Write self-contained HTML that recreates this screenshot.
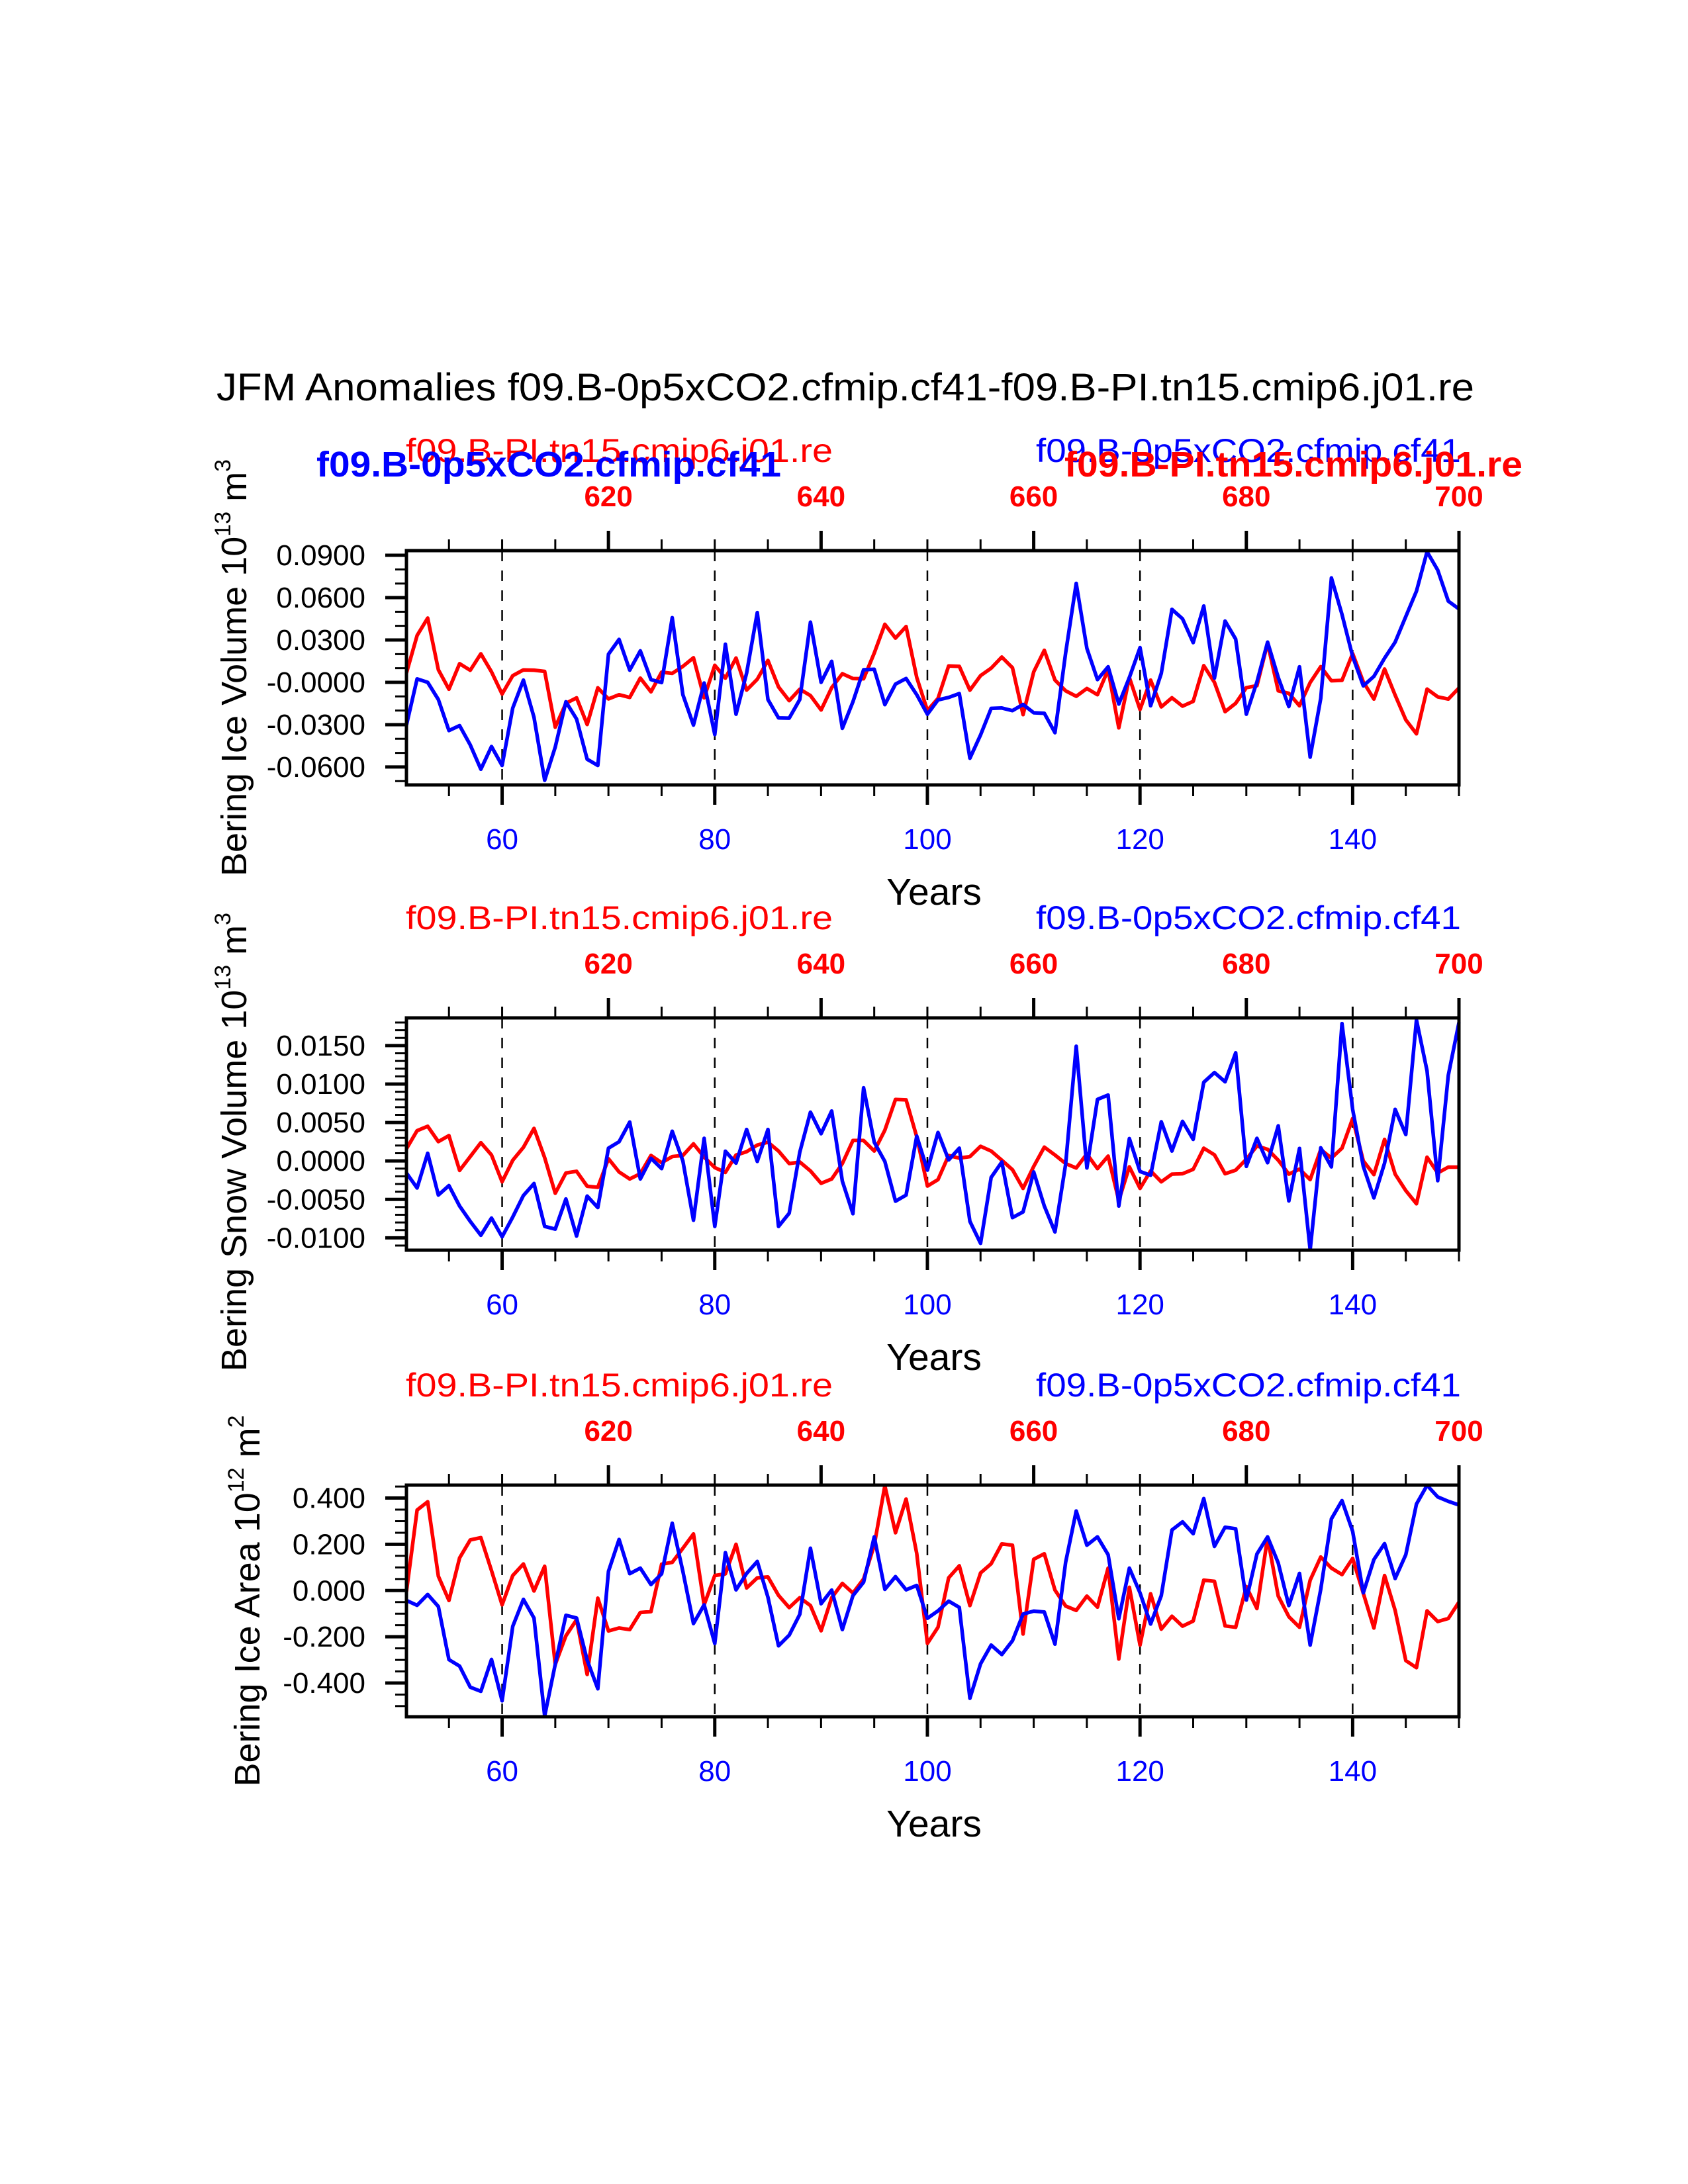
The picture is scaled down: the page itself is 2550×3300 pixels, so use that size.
<!DOCTYPE html>
<html>
<head>
<meta charset="utf-8">
<style>
html,body{margin:0;padding:0;background:#fff;}
svg{display:block;}
text{font-family:"Liberation Sans",Arial,sans-serif;}
</style>
</head>
<body>
<svg id="fig" width="2550" height="3300" viewBox="0 0 2550 3300" xmlns="http://www.w3.org/2000/svg">
<rect x="0" y="0" width="2550" height="3300" fill="#fff"/>
<text x="1277" y="605" font-size="58" text-anchor="middle" textLength="1900" lengthAdjust="spacingAndGlyphs">JFM Anomalies f09.B-0p5xCO2.cfmip.cf41-f09.B-PI.tn15.cmip6.j01.re</text>
</svg>
<script>
const years = [51,52,53,54,55,56,57,58,59,60,61,62,63,64,65,66,67,68,69,70,71,72,73,74,75,76,77,78,79,80,81,82,83,84,85,86,87,88,89,90,91,92,93,94,95,96,97,98,99,100,101,102,103,104,105,106,107,108,109,110,111,112,113,114,115,116,117,118,119,120,121,122,123,124,125,126,127,128,129,130,131,132,133,134,135,136,137,138,139,140,141,142,143,144,145,146,147,148,149,150];
const bottomTickLabels = ["60","80","100","120","140"];
const bottomTickYears = [60,80,100,120,140];
const topTickLabels = ["620","640","660","680","700"];
const topYearOffset = 550;

const iceVolBlue = [-0.0303,0.0024,0,-0.0122,-0.0342,-0.0307,-0.0444,-0.0616,-0.0455,-0.0589,
-0.0182,0.0016,-0.0248,-0.0694,-0.0459,-0.0138,-0.026,-0.0545,-0.0589,0.0199,
0.0304,0.0086,0.0223,0.0019,-0.0002,0.0458,-0.0088,-0.0303,-0.0005,-0.037,
0.027,-0.0226,0.0066,0.0494,-0.0122,-0.0252,-0.0254,-0.0122,0.0426,0,
0.0149,-0.0326,-0.0138,0.0089,0.0092,-0.0158,-0.0013,0.0027,-0.0088,-0.0226,
-0.0125,-0.0107,-0.008,-0.0538,-0.0373,-0.0185,-0.0182,-0.0201,-0.0157,-0.0216,
-0.0219,-0.0357,0.0207,0.0701,0.0241,0.0019,0.011,-0.0154,0.0034,0.0246,
-0.0166,0.0063,0.0517,0.045,0.0281,0.0541,0.003,0.0434,0.0306,-0.0226,
0.0003,0.0285,0.0034,-0.0172,0.011,-0.053,-0.0114,0.074,0.0481,0.0183,
-0.0025,0.0042,0.0171,0.0285,0.0466,0.0646,0.0925,0.0795,0.0575,0.052];
const iceVolRed = [0.0066,0.0332,0.0455,0.0089,-0.0049,0.0132,0.0085,0.0202,0.0074,-0.0083,
0.0047,0.0088,0.0086,0.0077,-0.0318,-0.0149,-0.011,-0.0299,-0.0039,-0.0118,
-0.0088,-0.0107,0.003,-0.0067,0.0072,0.0063,0.0113,0.0174,-0.011,0.0121,
0.003,0.0172,-0.0055,0.0022,0.0155,-0.0033,-0.013,-0.0049,-0.0094,-0.0196,
-0.0038,0.0061,0.0027,0.0025,0.0207,0.0411,0.0313,0.0395,0.0034,-0.02,
-0.0114,0.0116,0.0113,-0.0056,0.0047,0.01,0.0179,0.0103,-0.0229,0.0074,
0.0227,0.0016,-0.006,-0.0099,-0.0044,-0.0088,0.0089,-0.0323,0.0034,-0.0193,
0.0016,-0.0174,-0.011,-0.0169,-0.0135,0.0118,0,-0.0208,-0.0149,-0.0038,
-0.0024,0.0277,-0.006,-0.0078,-0.0166,-0.0002,0.0111,0.0011,0.0014,0.0204,
0.0003,-0.0119,0.0094,-0.0091,-0.0266,-0.0365,-0.0048,-0.0103,-0.0119,-0.004];
// snow volume in thousandths of 10^13 m^3
const snowVolBlueMilli = [-1.57,-3.51,1.0,-4.43,-3.2,-5.86,-7.86,-9.66,-7.43,-9.86,
-7.29,-4.49,-2.94,-8.51,-8.86,-4.94,-9.77,-4.57,-6.06,1.66,
2.49,5.06,-2.34,0.34,-1.0,3.86,0,-7.71,2.94,-8.51,
1.26,-0.29,4.09,-0.06,4.09,-8.51,-6.8,1.14,6.34,3.54,
6.49,-2.63,-6.86,9.51,2.43,-0.06,-5.23,-4.43,3.23,-1.2,
3.71,0.14,1.66,-7.86,-10.71,-2.14,-0.14,-7.37,-6.63,-1.43,
-5.86,-9.23,-0.43,14.91,-0.91,8.0,8.57,-5.86,2.91,-1.37,
-1.86,5.09,1.29,5.14,2.8,10.23,11.49,10.29,14.06,-0.71,
2.94,-0.23,4.57,-5.2,1.63,-11.57,1.71,-0.77,17.86,6.71,
-0.71,-4.8,-0.29,6.71,3.43,18.34,11.71,-2.57,11.14,18.0];
const snowVolRedMilli = [1.57,3.94,4.51,2.51,3.29,-1.23,0.57,2.37,0.77,-2.71,
0.09,1.77,4.23,0.43,-4.2,-1.57,-1.34,-3.29,-3.43,0.29,
-1.43,-2.34,-1.66,0.71,-0.23,0.57,0.71,2.23,0.51,-0.86,
-1.49,0.77,1.2,2.06,2.43,1.29,-0.34,-0.14,-1.29,-2.91,
-2.34,-0.34,2.66,2.66,1.29,4.0,8.0,7.94,3.14,-3.26,
-2.43,0.71,0.37,0.57,1.91,1.29,0.09,-1.14,-3.57,-0.71,
1.8,0.77,-0.34,-0.91,0.91,-1.0,0.63,-5.14,-0.77,-3.57,
-1.29,-2.71,-1.71,-1.66,-1.09,1.66,0.8,-1.66,-1.2,0.23,
1.94,1.51,0.09,-1.71,-1.06,-2.43,1.49,0.37,1.66,5.51,
0,-1.77,2.8,-1.71,-3.86,-5.57,0.49,-1.57,-0.8,-0.8];
const iceAreaBlue = [-0.043,-0.064,-0.017,-0.069,-0.299,-0.327,-0.418,-0.436,-0.298,-0.477,
-0.155,-0.038,-0.119,-0.543,-0.319,-0.107,-0.119,-0.301,-0.425,0.083,
0.221,0.073,0.097,0.026,0.072,0.291,0.083,-0.143,-0.062,-0.229,
0.164,0.003,0.074,0.126,-0.029,-0.239,-0.193,-0.103,0.183,-0.057,
0.002,-0.169,-0.022,0.036,0.232,0.005,0.06,0.003,0.022,-0.12,
-0.088,-0.046,-0.073,-0.466,-0.317,-0.236,-0.277,-0.217,-0.102,-0.089,
-0.093,-0.232,0.122,0.344,0.196,0.232,0.155,-0.122,0.097,-0.01,
-0.145,-0.022,0.262,0.297,0.246,0.398,0.191,0.274,0.267,-0.041,
0.158,0.232,0.119,-0.065,0.074,-0.236,0.005,0.31,0.389,0.256,
-0.01,0.134,0.203,0.052,0.155,0.374,0.455,0.405,0.386,0.37];
const iceAreaRed = [-0.005,0.348,0.384,0.062,-0.043,0.141,0.219,0.229,0.086,-0.062,
0.065,0.115,-0.002,0.105,-0.32,-0.196,-0.126,-0.363,-0.033,-0.175,
-0.162,-0.169,-0.095,-0.091,0.114,0.122,0.183,0.245,-0.062,0.065,
0.072,0.2,0.011,0.055,0.059,-0.021,-0.074,-0.031,-0.065,-0.174,
-0.031,0.031,-0.011,0.05,0.196,0.453,0.25,0.396,0.16,-0.229,
-0.159,0.055,0.107,-0.065,0.076,0.116,0.202,0.196,-0.188,0.135,
0.159,0.002,-0.067,-0.086,-0.024,-0.072,0.097,-0.296,0.014,-0.236,
-0.014,-0.167,-0.111,-0.154,-0.132,0.045,0.04,-0.153,-0.159,0.017,
-0.078,0.229,-0.024,-0.113,-0.159,0.045,0.145,0.097,0.069,0.139,
-0.012,-0.162,0.065,-0.086,-0.303,-0.334,-0.088,-0.134,-0.121,-0.05];

const iceVolTickValues = [0.09,0.06,0.03,0,-0.03,-0.06];
const iceVolTickLabels = ["0.0900","0.0600","0.0300","-0.0000","-0.0300","-0.0600"];
const snowTickValues = [0.015,0.01,0.005,0,-0.005,-0.01];
const snowTickLabels = ["0.0150","0.0100","0.0050","0.0000","-0.0050","-0.0100"];
const areaTickValues = [0.4,0.2,0,-0.2,-0.4];
const areaTickLabels = ["0.400","0.200","0.000","-0.200","-0.400"];

const NS = "http://www.w3.org/2000/svg";
const svg = document.getElementById("fig");
function mk(tag, attrs, parent){
  const e = document.createElementNS(NS, tag);
  for (const k in attrs) e.setAttribute(k, attrs[k]);
  (parent||svg).appendChild(e);
  return e;
}
const X0 = 614, X1 = 2204, YR0 = 51, YR1 = 150;
function xScale(yr){ return X0 + (yr - YR0) * (X1 - X0) / (YR1 - YR0); }

const panels = [
  {key:"ice-volume", top:832, bottom:1186, ymin:-0.0727, ymax:0.0933, minorStep:0.01,
   blue:iceVolBlue, red:iceVolRed, scale:1, tv:iceVolTickValues, tl:iceVolTickLabels,
   title:["Bering Ice Volume 10","13"," m","3"], titleX:372, bold:true},
  {key:"snow-volume", top:1538, bottom:1889, ymin:-0.0116, ymax:0.0186, minorStep:0.001,
   blue:snowVolBlueMilli, red:snowVolRedMilli, scale:0.001, tv:snowTickValues, tl:snowTickLabels,
   title:["Bering Snow Volume 10","13"," m","3"], titleX:372, bold:false},
  {key:"ice-area", top:2244, bottom:2594, ymin:-0.546, ymax:0.456, minorStep:0.05,
   blue:iceAreaBlue, red:iceAreaRed, scale:1, tv:areaTickValues, tl:areaTickLabels,
   title:["Bering Ice Area 10","12"," m","2"], titleX:392, bold:false}
];

panels.forEach(function(p){
  const g = mk("g", {});
  
  
  const yScale = function(v){ return p.bottom - (v - p.ymin) * (p.bottom - p.top) / (p.ymax - p.ymin); };

  bottomTickYears.forEach(function(yr){
    const l = mk("line", {x1:xScale(yr), x2:xScale(yr), y1:p.top, y2:p.bottom, stroke:"#000", "stroke-width":2.5, "stroke-dasharray":"16,14"}, g);
    
    
  });

  [["red", p.red, "#ff0000"], ["blue", p.blue, "#0000ff"]].forEach(function(s){
    let d = "";
    s[1].forEach(function(v, i){
      d += (i ? "L" : "M") + xScale(years[i]).toFixed(1) + "," + yScale(v * p.scale).toFixed(1);
    });
    const path = mk("path", {d:d, fill:"none", stroke:s[2], "stroke-width":5.5, "stroke-linejoin":"round"}, g);
    
    
  });

  const fr = mk("rect", {x:X0, y:p.top, width:X1-X0, height:p.bottom-p.top, fill:"none", stroke:"#000", "stroke-width":5}, g);
  
  

  for (let yr = 55; yr <= 150; yr += 5) {
    const x = xScale(yr);
    const bMajor = (yr % 20 === 0);
    const tMajor = ((yr + topYearOffset) % 20 === 0);
    mk("line", {x1:x, x2:x, y1:p.bottom, y2:p.bottom + (bMajor ? 30 : 17), stroke:"#000", "stroke-width": bMajor ? 5 : 3}, g);
    mk("line", {x1:x, x2:x, y1:p.top, y2:p.top - (tMajor ? 30 : 17), stroke:"#000", "stroke-width": tMajor ? 5 : 3}, g);
  }
  bottomTickYears.forEach(function(yr, i){
    const t = mk("text", {x:xScale(yr), y:p.bottom + 97, "font-size":44, fill:"#0000ff", "text-anchor":"middle"}, g);
    t.textContent = bottomTickLabels[i];
    
    
  });
  topTickLabels.forEach(function(lab, i){
    const yr = parseInt(lab, 10) - topYearOffset;
    const t = mk("text", {x:xScale(yr), y:p.top - 67, "font-size":44, "font-weight":"bold", fill:"#ff0000", "text-anchor":"middle"}, g);
    t.textContent = lab;
    
    
  });
  const yl = mk("text", {x:(X0+X1)/2 + 2, y:p.bottom + 181, "font-size":57, "text-anchor":"middle"}, g);
  yl.textContent = "Years";
  
  

  const nMin = Math.ceil(p.ymin / p.minorStep - 1e-6), nMax = Math.floor(p.ymax / p.minorStep + 1e-6);
  for (let k = nMin; k <= nMax; k++) {
    const y = yScale(k * p.minorStep);
    mk("line", {x1:X0, x2:X0 - 17, y1:y, y2:y, stroke:"#000", "stroke-width":3}, g);
  }
  p.tv.forEach(function(v, i){
    const y = yScale(v);
    mk("line", {x1:X0, x2:X0 - 32, y1:y, y2:y, stroke:"#000", "stroke-width":5}, g);
    const t = mk("text", {x:552, y:y + 15, "font-size":44, "text-anchor":"end"}, g);
    t.textContent = p.tl[i];
    
    
  });

  const cy = (p.top + p.bottom) / 2 + (p.key === "snow-volume" ? 12 : 0);
  const yt = mk("text", {x:0, y:0, "font-size":54, "text-anchor":"middle", transform:"translate(" + p.titleX + "," + cy + ") rotate(-90)"}, g);
  
  
  const a = mk("tspan", {}, yt); a.textContent = p.title[0];
  const b = mk("tspan", {dy:-24, "font-size":34}, yt); b.textContent = p.title[1];
  const c = mk("tspan", {dy:24}, yt); c.textContent = p.title[2];
  const d = mk("tspan", {dy:-24, "font-size":34}, yt); d.textContent = p.title[3];

  const st1 = mk("text", {x:613, y:p.top - 134, "font-size":50, fill:"#ff0000", textLength:645, lengthAdjust:"spacingAndGlyphs"}, g);
  st1.textContent = "f09.B-PI.tn15.cmip6.j01.re";
  
  
  const st2 = mk("text", {x:1565, y:p.top - 134, "font-size":50, fill:"#0000ff", textLength:642, lengthAdjust:"spacingAndGlyphs"}, g);
  st2.textContent = "f09.B-0p5xCO2.cfmip.cf41";
  
  
  if (p.bold) {
    const b1 = mk("text", {x:478, y:p.top - 112, "font-size":54, "font-weight":"bold", fill:"#0000ff", textLength:702, lengthAdjust:"spacingAndGlyphs"}, g);
    b1.textContent = "f09.B-0p5xCO2.cfmip.cf41";
    
    
    const b2 = mk("text", {x:1608, y:p.top - 112, "font-size":54, "font-weight":"bold", fill:"#ff0000", textLength:692, lengthAdjust:"spacingAndGlyphs"}, g);
    b2.textContent = "f09.B-PI.tn15.cmip6.j01.re";
    
    
  }
});
</script>
</body>
</html>
